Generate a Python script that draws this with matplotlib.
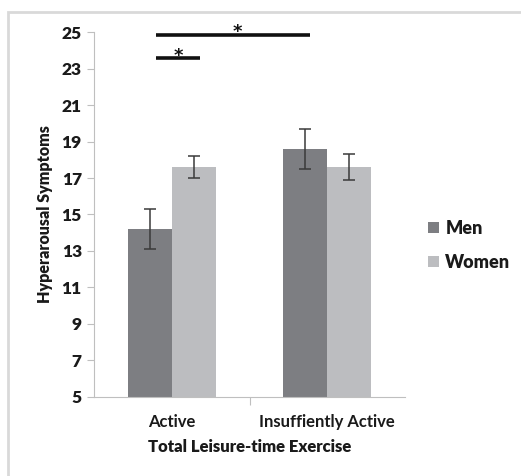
import matplotlib
matplotlib.use("Agg")
import matplotlib.pyplot as plt
from matplotlib.patches import Rectangle
import numpy as np

categories = ["Active", "Insuffiently Active"]
series_names = ["Men", "Women"]
men_values = [14.2, 18.6]
women_values = [17.6, 17.6]
men_err = [1.1, 1.1]
women_err = [0.6, 0.7]
yticks = [5, 7, 9, 11, 13, 15, 17, 19, 21, 23, 25]

plt.rcParams['font.family'] = ['Lato', 'DejaVu Sans']
BOLD = 'heavy'

fig = plt.figure(figsize=(5.21, 4.76), dpi=100)
fig.patches.append(Rectangle((8/521, -0.01), 1.0, 1 - 12/476 + 0.01, transform=fig.transFigure,
                             fill=False, edgecolor='#d9d9d9', linewidth=2, zorder=0))
ax = fig.add_axes([0.181, 0.1666, 0.596, 0.7656])

x = np.arange(len(categories))
w = 0.285
men_color = '#7d7e82'
women_color = '#bcbdc0'
ax.bar(x - w/2, men_values, w, bottom=0, color=men_color, label=series_names[0], zorder=2)
ax.bar(x + w/2, women_values, w, bottom=0, color=women_color, label=series_names[1], zorder=2)
ax.errorbar(x - w/2, men_values, yerr=men_err, fmt='none', ecolor='#3a3a3a', elinewidth=1.1,
            capsize=4, capthick=1.1, zorder=3)
ax.errorbar(x + w/2, women_values, yerr=women_err, fmt='none', ecolor='#3a3a3a', elinewidth=1.1,
            capsize=4, capthick=1.1, zorder=3)

# significance bars
ax.plot([-0.103, 0.89], [24.87, 24.87], color='#111111', lw=2.6, solid_capstyle='butt', zorder=4)
ax.plot([-0.103, 0.18], [23.57, 23.57], color='#111111', lw=2.6, solid_capstyle='butt', zorder=4)
ax.text(0.42, 25.0, '*', ha='center', va='center', fontsize=13, fontweight='bold',
        color='#111111', family='DejaVu Sans')
ax.text(0.04, 23.7, '*', ha='center', va='center', fontsize=13, fontweight='bold',
        color='#111111', family='DejaVu Sans')

ax.set_ylim(5, 25)
ax.set_xlim(-0.5, 1.5)
ax.set_yticks(yticks)
ax.set_yticklabels([str(t) for t in yticks], fontsize=12.5, fontweight=BOLD, color='#1a1a1a')
ax.set_xticks([0.5], minor=False)
ax.set_xticklabels([''])
ax.tick_params(axis='x', length=6, color='#bfbfbf', width=0.8)
ax.tick_params(axis='y', length=5, color='#bfbfbf', width=0.8, pad=4)
for i, c in enumerate(categories):
    ax.annotate(c, xy=(i, 5), xycoords='data', xytext=(0, -12.6), textcoords='offset points',
                ha='center', va='top', fontsize=12, fontweight='bold', color='#1a1a1a',
                annotation_clip=False)

for s in ['top', 'right']:
    ax.spines[s].set_visible(False)
ax.spines['left'].set_color('#bfbfbf')
ax.spines['bottom'].set_color('#bfbfbf')
ax.spines['left'].set_linewidth(0.8)
ax.spines['bottom'].set_linewidth(0.8)

ax.set_xlabel('Total Leisure-time Exercise', fontsize=12, fontweight=BOLD, color='#1a1a1a')
ax.xaxis.set_label_coords(0.5, -(447 - 396.7) / (0.7656 * 476))
ax.xaxis.label.set_va('center')
ax.set_ylabel('Hyperarousal Symptoms', fontsize=11.5, fontweight=BOLD, color='#1a1a1a')
ax.yaxis.set_label_coords(-(94.3 - 45) / (0.596 * 521), (396.7 - 214) / (0.7656 * 476))
ax.yaxis.label.set_va('center')

leg = ax.legend(loc='upper left', bbox_to_anchor=(1.075, 0.485), frameon=False,
                handlelength=0.6, handleheight=0.6, handletextpad=0.35, labelspacing=0.95,
                borderaxespad=0, borderpad=0, prop={'weight': BOLD, 'size': 13})
for t in leg.get_texts():
    t.set_color('#1a1a1a')

fig.savefig('out.png', dpi=100, facecolor='white')
